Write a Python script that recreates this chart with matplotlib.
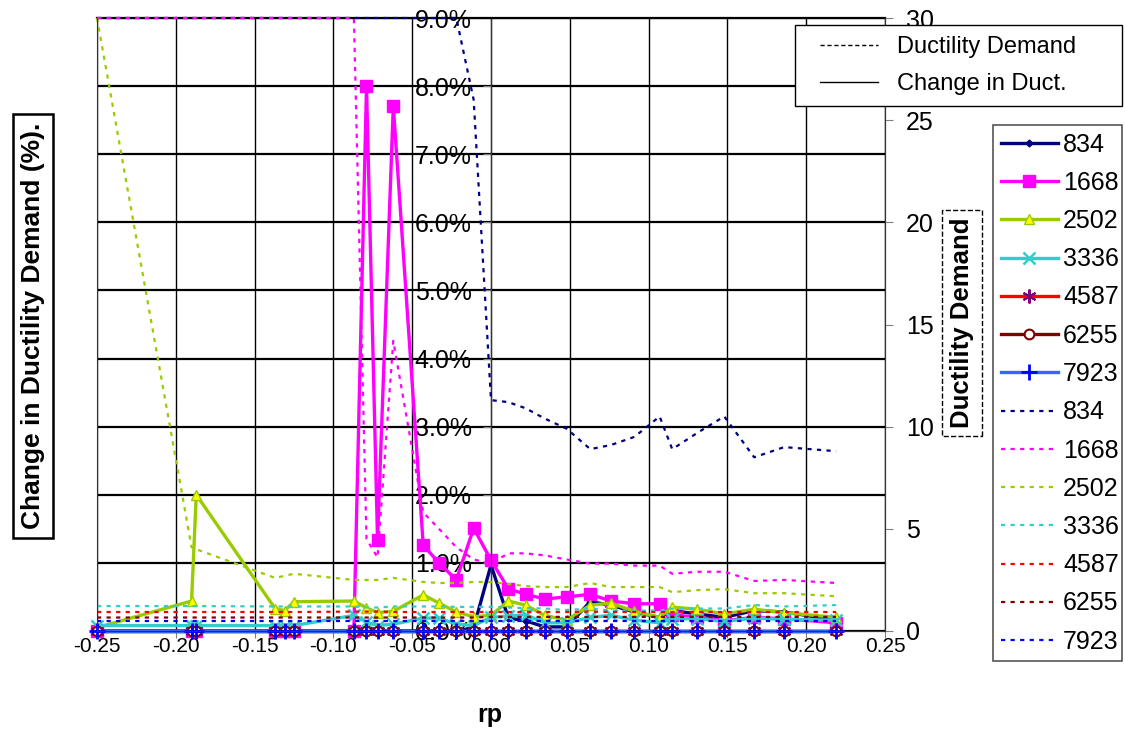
import numpy as np
import matplotlib
matplotlib.use("Agg")
import matplotlib.pyplot as plt
from matplotlib.lines import Line2D
from matplotlib.patches import Rectangle

plt.rcParams['font.family'] = ['Liberation Sans', 'DejaVu Sans']

# rp values shared by every series
rp = [-0.25, -0.19, -0.187, -0.137, -0.131, -0.125, -0.087, -0.079, -0.072, -0.062,
      -0.043, -0.033, -0.022, -0.011, 0.0, 0.011, 0.022, 0.034, 0.048, 0.063,
      0.076, 0.091, 0.107, 0.115, 0.131, 0.148, 0.167, 0.186, 0.219]

# change in ductility demand (%), left axis
chg_834 = [0, 0, 0, 0, 0, 0, 0, 0, 0, 0, 0, 0, 0, 0.05, 0.97, 0.19, 0.15, 0.06, 0.06,
           0.43, 0.38, 0.28, 0.2, 0.3, 0.25, 0.2, 0.3, 0.28, 0.16]
chg_1668 = [0, 0, 0, 0, 0, 0, 0, 8.0, 1.34, 7.71, 1.26, 1.0, 0.75, 1.51, 1.04, 0.62, 0.54,
            0.47, 0.5, 0.54, 0.44, 0.4, 0.4, 0.24, 0.2, 0.15, 0.2, 0.18, 0.12]
chg_2502 = [0.05, 0.44, 2.0, 0.33, 0.3, 0.43, 0.44, 0.34, 0.27, 0.29, 0.53, 0.41, 0.28,
            0.21, 0.23, 0.44, 0.38, 0.23, 0.16, 0.38, 0.41, 0.29, 0.2, 0.35, 0.32, 0.25,
            0.32, 0.27, 0.2]
chg_3336 = [0.08, 0.08, 0.08, 0.08, 0.08, 0.08, 0.23, 0.13, 0.08, 0.1, 0.19, 0.19, 0.1,
            0.08, 0.2, 0.22, 0.24, 0.12, 0.12, 0.2, 0.23, 0.16, 0.12, 0.18, 0.18, 0.14,
            0.19, 0.17, 0.16]
chg_4587 = [0] * 29
chg_6255 = [0] * 29
chg_7923 = [0] * 29

# ductility demand, right axis
dd_834 = [30, 30, 30, 30, 30, 30, 30, 30, 30, 30, 30, 30, 30, 26.0, 11.3, 11.2, 10.9,
          10.4, 9.9, 8.9, 9.1, 9.5, 10.5, 8.9, 9.7, 10.5, 8.5, 9.0, 8.8]
dd_1668 = [30, 30, 30, 30, 30, 30, 30, 4.5, 3.6, 14.2, 5.8, 5.0, 4.1, 3.5, 3.3, 3.8, 3.8,
           3.7, 3.5, 3.3, 3.3, 3.2, 3.2, 2.8, 2.9, 2.9, 2.45, 2.5, 2.35]
dd_2502 = [30, 4.1, 4.0, 2.6, 2.7, 2.8, 2.5, 2.5, 2.5, 2.6, 2.4, 2.35, 2.35, 2.4, 2.4,
           2.3, 2.2, 2.15, 2.15, 2.35, 2.15, 2.15, 2.15, 1.9, 2.0, 2.05, 1.85, 1.85, 1.7]
dd_3336 = [1.22, 1.22, 1.22, 1.2, 1.2, 1.2, 1.2, 1.15, 1.15, 1.2, 1.2, 1.2, 1.18, 1.18,
           1.18, 1.15, 1.12, 1.1, 1.03, 1.1, 1.0, 1.0, 1.0, 1.1, 1.1, 1.1, 1.27, 1.2, 1.27]
dd_4587 = [0.93, 0.93, 0.93, 0.93, 0.93, 0.93, 0.95, 0.95, 0.95, 0.93, 0.93, 0.93, 0.93,
           0.93, 0.93, 0.93, 0.93, 0.93, 0.93, 0.95, 0.93, 0.93, 0.93, 0.93, 0.93, 0.93,
           0.93, 0.93, 0.93]
dd_6255 = [0.66, 0.66, 0.66, 0.66, 0.66, 0.66, 0.66, 0.66, 0.66, 0.66, 0.66, 0.66, 0.66,
           0.66, 0.69, 0.69, 0.69, 0.69, 0.69, 0.69, 0.69, 0.69, 0.69, 0.69, 0.69, 0.69,
           0.69, 0.69, 0.69]
dd_7923 = [0.49] * 29

names = ['834', '1668', '2502', '3336', '4587', '6255', '7923']
x_ticks = [-0.25, -0.20, -0.15, -0.10, -0.05, 0.0, 0.05, 0.10, 0.15, 0.20, 0.25]
pct_ticks = [0, 1, 2, 3, 4, 5, 6, 7, 8, 9]
dd_ticks = [0, 5, 10, 15, 20, 25, 30]

fig = plt.figure(figsize=(11.25, 7.32), dpi=100)
ax = fig.add_axes([97 / 1125, 1 - 631 / 732, 788 / 1125, 613 / 732])
ax.set_xlim(-0.25, 0.25)
ax.set_ylim(0, 9)
ax.set_xticks(x_ticks)
ax.set_xticklabels(['%.2f' % t for t in x_ticks])
ax.set_yticks(pct_ticks)
ax.set_yticklabels(['%.1f%%' % t for t in pct_ticks])
ax.spines['left'].set_position(('data', 0))
ax.xaxis.grid(True, color='black', lw=1.0)
ax.yaxis.grid(True, color='black', lw=1.6)
ax.set_axisbelow(True)
for s in ax.spines.values():
    s.set_color('#333333')
ax.spines['top'].set_color('black')
ax.spines['top'].set_linewidth(1.6)
ax.tick_params(axis='x', direction='out', length=5, color='gray', labelsize=15, pad=-1)
ax.tick_params(axis='y', direction='out', length=6, color='gray', labelsize=18, pad=8)

solid_style = [
    dict(color='#000080', marker='D', ms=3.5),
    dict(color='#FF00FF', marker='s', ms=8),
    dict(color='#99CC00', marker='^', ms=7, mfc='#FFFF00', mec='#99CC00'),
    dict(color='#33CCCC', marker='x', ms=8, mew=1.8),
    dict(color='#FF0000', marker=(6, 2, 0), ms=10, mec='#800080', mew=1.5),
    dict(color='#800000', marker='o', ms=7, mfc='white', mec='#800000', mew=1.5),
    dict(color='#3366FF', marker='+', ms=11, mec='#0000FF', mew=2),
]
dash_colors = ['#000080', '#FF00FF', '#99CC00', '#33CCCC', '#FF0000', '#800000', '#0000FF']

chg = [chg_834, chg_1668, chg_2502, chg_3336, chg_4587, chg_6255, chg_7923]
dd = [dd_834, dd_1668, dd_2502, dd_3336, dd_4587, dd_6255, dd_7923]

handles = []
for vals, st in zip(chg, solid_style):
    h, = ax.plot(rp, vals, lw=2.4, clip_on=False, **st)
    handles.append(h)

ax2 = ax.twinx()
ax2.set_ylim(0, 30)
ax2.set_yticks(dd_ticks)
ax2.tick_params(axis='y', direction='out', length=6, color='gray', labelsize=18, pad=9)
for s in ax2.spines.values():
    s.set_color('#333333')
ax2.spines['top'].set_visible(False)
for vals, c in zip(dd, dash_colors):
    h, = ax2.plot(rp, vals, color=c, lw=1.6, dashes=(1.9, 2.4), clip_on=False)
    handles.append(h)

fig.text(33 / 1125, 1 - 326 / 732, 'Change in Ductility Demand (%).', rotation=90,
         ha='center', va='center', fontsize=19, fontweight='bold',
         bbox=dict(facecolor='white', edgecolor='black', lw=1.8, pad=6))
fig.text(962 / 1125, 1 - 323 / 732, 'Ductility Demand', rotation=90,
         ha='center', va='center', fontsize=18.5, fontweight='bold',
         bbox=dict(facecolor='white', edgecolor='black', lw=1, ls='--', pad=6))
fig.text(490 / 1125, 1 - 715 / 732, 'rp', ha='center', va='center',
         fontsize=18, fontweight='bold')

# top key: frame drawn separately so the entries sit where they do in the original
fig.patches.append(Rectangle((795 / 1125, 1 - 106 / 732), 327 / 1125, 81 / 732,
                             transform=fig.transFigure, facecolor='white',
                             edgecolor='black', lw=1, zorder=2))
key = [Line2D([], [], color='black', lw=1, dashes=(3, 2)),
       Line2D([], [], color='black', lw=1)]
fig.legend(key, ['Ductility Demand', 'Change in Duct.'], loc='upper left',
           bbox_to_anchor=(820 / 1125, 1 - 36 / 732), fontsize=17, frameon=False,
           borderaxespad=0, borderpad=0, handlelength=2.45, handletextpad=0.8,
           labelspacing=0.63)

leg2 = fig.legend(handles, names + names, loc='upper left',
                  bbox_to_anchor=(993 / 1125, 1 - 125 / 732, 129 / 1125, 0), mode='expand',
                  fontsize=18, frameon=True, fancybox=False, edgecolor='#555555',
                  framealpha=1, borderaxespad=0, handlelength=2.3, handletextpad=0.2,
                  labelspacing=0.57, borderpad=0.3, numpoints=1)
leg2.get_frame().set_linewidth(1.2)

fig.savefig('out.png', dpi=100)
